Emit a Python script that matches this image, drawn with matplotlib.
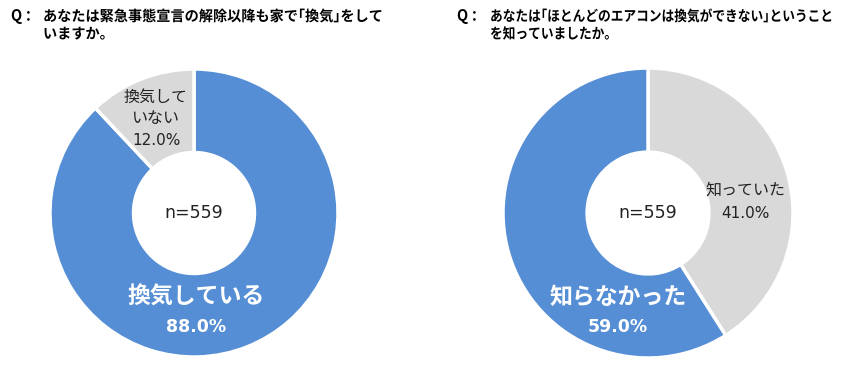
import matplotlib
matplotlib.use("Agg")
import matplotlib.pyplot as plt
from matplotlib.textpath import TextPath
from matplotlib.patches import PathPatch
from matplotlib.font_manager import FontProperties
import matplotlib.transforms as mtransforms

plt.rcParams['font.family'] = ['Noto Sans CJK JP', 'DejaVu Sans']

# data
left_labels = ["換気している", "換気して\nいない"]
left_values = [88.0, 12.0]
right_labels = ["知っていた", "知らなかった"]
right_values = [41.0, 59.0]
n_text = "n=559"
left_title = ["あなたは緊急事態宣言の解除以降も家で｢換気｣をして", "いますか。"]
right_title = ["あなたは｢ほとんどのエアコンは換気ができない｣ということ", "を知っていましたか。"]

blue = "#558ED5"
grey = "#D9D9D9"
num_font = ["DejaVu Sans"]

W, H = 845, 367
fig = plt.figure(figsize=(W / 100, H / 100), dpi=100)


def donut(cx, cy, r, values, colors):
    ax = fig.add_axes([(cx - r) / W, (H - cy - r) / H, 2 * r / W, 2 * r / H])
    ax.pie(values, colors=colors, startangle=90, counterclock=False,
           radius=1.0, wedgeprops=dict(width=0.58, edgecolor="white", linewidth=2.5))
    ax.set_xlim(-1, 1)
    ax.set_ylim(-1, 1)
    ax.set_aspect("equal")
    ax.axis("off")
    return ax


def px(x, y):
    return x / W, 1 - y / H


bold_fp = FontProperties(family="Noto Sans CJK JP", weight="bold")


def title_block(x, y, lines, width, size=10.5):
    # draw lines as paths squeezed horizontally so line 1 spans `width` pixels
    em = size * 100 / 72
    first = TextPath((0, 0), lines[0], size=em, prop=bold_fp)
    sx = width / first.get_extents().width
    for i, s in enumerate(lines):
        tp = TextPath((0, 0), s, size=em, prop=bold_fp)
        tr = mtransforms.Affine2D().scale(sx, 1).translate(x, H - y - i * 17.5)
        fig.add_artist(PathPatch(tp, transform=tr, facecolor="black", edgecolor="none"))


donut(194, 213, 144, left_values, [blue, grey])
donut(648, 213, 145, right_values, [grey, blue])

# centre text
fig.text(*px(194, 213), n_text, ha="center", va="center", fontsize=12.5,
         color="#222222", family=num_font)
fig.text(*px(648, 213), n_text, ha="center", va="center", fontsize=12.5,
         color="#222222", family=num_font)

# left labels
fig.text(*px(196, 297), left_labels[0], ha="center", va="center", fontsize=16.5,
         fontweight="bold", color="white")
fig.text(*px(196, 327), f"{left_values[0]:.1f}%", ha="center", va="center", fontsize=12.5,
         fontweight="bold", color="white", family=num_font)
fig.text(*px(156, 108), left_labels[1], ha="center", va="center", fontsize=11.5,
         color="#222222", linespacing=1.25)
fig.text(*px(157, 140), f"{left_values[1]:.1f}%", ha="center", va="center", fontsize=11,
         color="#222222", family=num_font)

# right labels
fig.text(*px(618, 297), right_labels[1], ha="center", va="center", fontsize=16.5,
         fontweight="bold", color="white")
fig.text(*px(618, 327), f"{right_values[1]:.1f}%", ha="center", va="center", fontsize=12.5,
         fontweight="bold", color="white", family=num_font)
fig.text(*px(745, 190), right_labels[0], ha="center", va="center", fontsize=11.5,
         color="#222222")
fig.text(*px(745, 213), f"{right_values[0]:.1f}%", ha="center", va="center", fontsize=11,
         color="#222222", family=num_font)

# titles
fig.text(*px(10, 16), "Q：", ha="left", va="center", fontsize=10.5, fontweight="bold")
title_block(43, 21, left_title, 337)
fig.text(*px(456, 16), "Q：", ha="left", va="center", fontsize=10.5, fontweight="bold")
title_block(490, 21, right_title, 340)

fig.savefig("out.png", dpi=100)
